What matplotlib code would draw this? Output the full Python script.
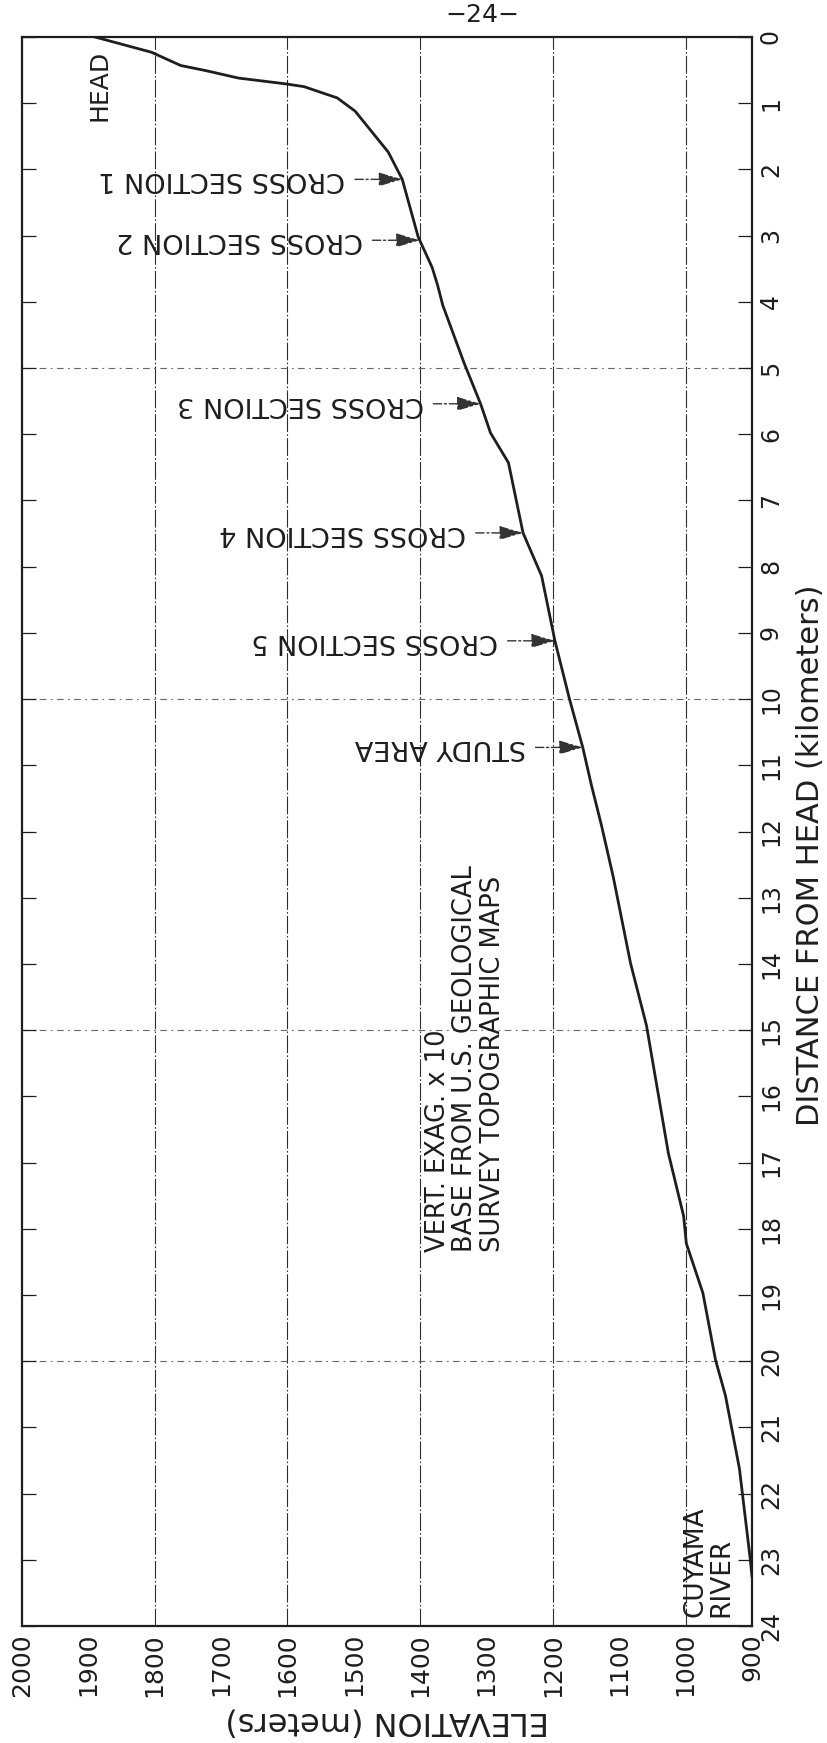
import numpy as np
import matplotlib
matplotlib.use("Agg")
import matplotlib.pyplot as plt
from matplotlib.ticker import FixedLocator

# ---- data ----
distance_km = [0.0, 0.23, 0.43, 0.51, 0.62, 0.71, 0.75, 0.92, 1.12, 1.43, 1.74, 2.15,
               3.02, 3.48, 3.74, 4.05, 4.92, 5.54, 5.98, 6.43, 7.49, 8.14, 9.12, 10.0,
               10.73, 11.30, 11.90, 12.69, 13.99, 14.93, 16.86, 17.81, 18.22, 18.97,
               19.98, 20.52, 21.62, 22.96, 23.25]
elevation_m = [1890, 1805, 1761, 1722, 1674, 1601, 1575, 1525, 1498, 1473, 1448, 1427,
               1403, 1382, 1374, 1366, 1334, 1309, 1294, 1267, 1245, 1217, 1197, 1175,
               1155, 1142, 1127, 1109, 1083, 1059, 1026, 1003, 999, 974,
               955, 940, 919, 903, 900]

section_labels = ["CROSS SECTION 1", "CROSS SECTION 2", "CROSS SECTION 3",
                  "CROSS SECTION 4", "CROSS SECTION 5", "STUDY AREA"]
section_km = [2.15, 3.07, 5.54, 7.49, 9.12, 10.73]

elev_ticks = list(range(900, 2001, 100))
elev_grid = [1000, 1200, 1400, 1600, 1800]
elev_minor = [1100, 1300, 1500, 1700, 1900]
dist_ticks = list(range(0, 25))
dist_grid = [5, 10, 15, 20]

FONT = "DejaVu Sans"
INK = "#1e1e1e"

W, H = 828, 1743
fig = plt.figure(figsize=(W / 100, H / 100), dpi=100)
fig.patch.set_facecolor("white")
ax = fig.add_axes([22 / W, (H - 1626) / H, 730 / W, 1589 / H])

ax.set_xlim(2000, 900)
ax.set_ylim(24, 0)

# grid lines (dash-dot)
for e in elev_grid:
    ax.axvline(e, color="#2e2e2e", lw=0.8, linestyle=(0, (16, 2, 1.5, 2)), zorder=1)
for d in dist_grid:
    ax.axhline(d, color="#666666", lw=0.8, linestyle=(0, (6, 4, 1.5, 4)), zorder=1)

# profile
ax.plot(elevation_m, distance_km, color=INK, lw=2.0, solid_joinstyle="round", zorder=3)

# ticks
ax.xaxis.set_major_locator(FixedLocator(elev_ticks))
ax.set_xticklabels([str(v) for v in elev_ticks], rotation=90, fontsize=18,
                   family=FONT, va="top", ha="center", color=INK)
ax.xaxis.set_minor_locator(FixedLocator(elev_minor))
ax.tick_params(axis="x", which="major", length=0, pad=5)
ax.tick_params(axis="x", which="minor", direction="in", length=8, width=0.9,
               top=True, bottom=True, color=INK)

ax.yaxis.set_major_locator(FixedLocator(dist_ticks))
ax.set_yticklabels([str(v) for v in dist_ticks], rotation=90, fontsize=17,
                   family=FONT, va="center", color=INK)
ax.tick_params(axis="y", which="major", direction="in", length=10, width=0.9,
               left=True, right=True, labelleft=False, labelright=True, pad=5,
               color=INK)

for s in ax.spines.values():
    s.set_linewidth(1.6)
    s.set_color(INK)

# cross-section arrows
for lab, d in zip(section_labels, section_km):
    e_tip = np.interp(d, distance_km, elevation_m)
    ax.annotate(lab, xy=(e_tip, d), xytext=(-57, 0), textcoords="offset pixels",
                rotation=180, ha="right", va="center", fontsize=19.5, family=FONT,
                color=INK,
                arrowprops=dict(arrowstyle="-|>,head_length=0.75,head_width=0.22",
                                color="#333333", lw=1.0, linestyle=(0, (6, 2, 1.5, 2)),
                                shrinkA=5, shrinkB=0))

# text labels
ax.text(1883, 0.2, "HEAD", rotation=90, ha="center", va="top", fontsize=18,
        family=FONT, color=INK)
ax.text(965, 23.87, "CUYAMA\nRIVER", rotation=90, ha="center", va="bottom",
        multialignment="left", fontsize=19, family=FONT, color=INK, linespacing=1.0)
ax.text(1332, 18.35, "VERT. EXAG. x 10\nBASE FROM U.S. GEOLOGICAL\nSURVEY TOPOGRAPHIC MAPS",
        rotation=90, ha="center", va="bottom", multialignment="left", fontsize=18.5,
        family=FONT, color=INK, linespacing=1.08)

fig.text(811 / W, 1 - 855 / H, "DISTANCE FROM HEAD (kilometers)", rotation=90,
         ha="center", va="center", fontsize=22, family=FONT, color=INK)
fig.text(387 / W, 1 - 1721 / H, "ELEVATION (meters)", rotation=180,
         ha="center", va="center", fontsize=23, family=FONT, color=INK)
fig.text(482 / W, 1 - 15 / H, "\u221224\u2212", ha="center", va="center", fontsize=18,
         family=FONT, color=INK)

fig.savefig("out.png", dpi=100, facecolor="white")
